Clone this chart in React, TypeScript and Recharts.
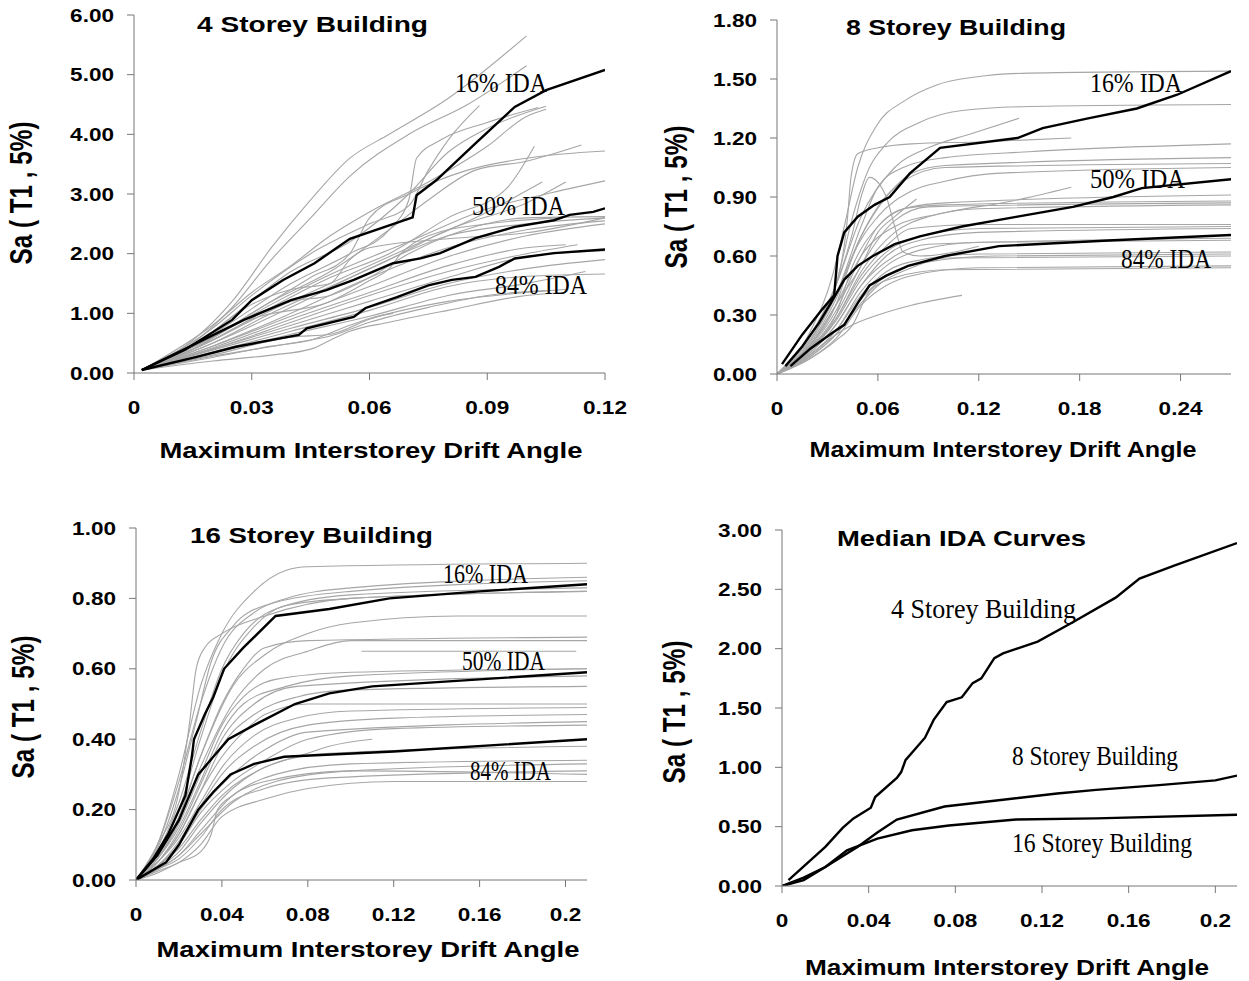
import { LineChart, Line, XAxis, YAxis } from 'recharts'

type Pt = [number, number]

const SANS = '"Liberation Sans", Arial, sans-serif'
const SERIF = '"Liberation Serif", "Times New Roman", serif'
const AXIS = '#777'
const GRAY = '#a6a6a6'

// tick values
const X_TICKS_4 = [0, 0.03, 0.06, 0.09, 0.12]
const Y_TICKS_4 = [0, 1, 2, 3, 4, 5, 6]
const X_TICKS_8 = [0, 0.06, 0.12, 0.18, 0.24]
const Y_TICKS_8 = [0, 0.3, 0.6, 0.9, 1.2, 1.5, 1.8]
const X_TICKS_16 = [0, 0.04, 0.08, 0.12, 0.16, 0.2]
const Y_TICKS_16 = [0, 0.2, 0.4, 0.6, 0.8, 1.0]
const X_TICKS_MED = [0, 0.04, 0.08, 0.12, 0.16, 0.2]
const Y_TICKS_MED = [0, 0.5, 1, 1.5, 2, 2.5, 3]

// 4 storey: individual records (drift, Sa)
const GRAY_4: Pt[][] = [
  [[0.002, 0.05], [0.015, 0.55], [0.025, 1.2], [0.035, 2.1], [0.045, 2.9], [0.055, 3.6], [0.065, 4.0], [0.08, 4.6], [0.1, 5.65]],
  [[0.002, 0.05], [0.015, 0.5], [0.025, 1.1], [0.035, 1.9], [0.045, 2.6], [0.055, 3.3], [0.07, 4.0], [0.085, 4.5], [0.1, 5.15]],
  [[0.002, 0.05], [0.015, 0.45], [0.025, 0.95], [0.04, 1.7], [0.055, 2.2], [0.07, 3.0], [0.08, 3.7], [0.09, 4.1], [0.105, 4.47]],
  [[0.002, 0.05], [0.02, 0.75], [0.03, 1.3], [0.045, 2.0], [0.06, 2.5], [0.07, 2.8], [0.075, 3.4], [0.08, 3.9], [0.088, 4.48]],
  [[0.002, 0.05], [0.02, 0.8], [0.03, 1.35], [0.04, 1.8], [0.05, 2.3], [0.06, 2.7], [0.075, 3.2], [0.09, 3.8], [0.1, 4.3], [0.105, 4.42]],
  [[0.002, 0.05], [0.015, 0.4], [0.03, 1.0], [0.045, 1.6], [0.055, 2.0], [0.06, 2.6], [0.07, 3.0], [0.085, 3.4], [0.1, 3.6], [0.12, 3.72]],
  [[0.002, 0.05], [0.02, 0.6], [0.035, 1.2], [0.05, 1.7], [0.065, 2.4], [0.075, 2.9], [0.087, 3.4], [0.1, 3.55], [0.114, 3.82]],
  [[0.002, 0.05], [0.02, 0.55], [0.035, 1.1], [0.05, 1.6], [0.065, 2.0], [0.08, 2.6], [0.095, 3.1], [0.102, 3.8]],
  [[0.002, 0.05], [0.02, 0.6], [0.035, 1.15], [0.05, 1.65], [0.07, 2.2], [0.09, 2.75], [0.105, 3.0], [0.12, 3.22]],
  [[0.002, 0.05], [0.02, 0.55], [0.035, 1.05], [0.05, 1.5], [0.07, 2.1], [0.09, 2.7], [0.104, 3.2]],
  [[0.002, 0.05], [0.02, 0.5], [0.035, 1.0], [0.05, 1.45], [0.065, 1.9], [0.08, 2.4], [0.1, 2.85], [0.11, 3.2]],
  [[0.002, 0.05], [0.02, 0.5], [0.04, 1.1], [0.06, 1.75], [0.08, 2.3], [0.1, 2.5], [0.12, 2.6]],
  [[0.002, 0.05], [0.02, 0.45], [0.04, 1.0], [0.06, 1.6], [0.08, 2.1], [0.1, 2.4], [0.12, 2.55]],
  [[0.002, 0.05], [0.02, 0.45], [0.04, 0.95], [0.06, 1.45], [0.08, 1.95], [0.1, 2.3], [0.12, 2.5]],
  [[0.002, 0.05], [0.02, 0.42], [0.04, 0.9], [0.06, 1.35], [0.08, 1.8], [0.1, 2.1], [0.11, 2.15]],
  [[0.002, 0.05], [0.02, 0.4], [0.04, 0.85], [0.06, 1.3], [0.08, 1.7], [0.1, 2.0], [0.113, 2.15]],
  [[0.002, 0.05], [0.02, 0.4], [0.04, 0.8], [0.06, 1.2], [0.08, 1.6], [0.1, 1.95], [0.12, 2.05]],
  [[0.002, 0.05], [0.02, 0.38], [0.04, 0.75], [0.06, 1.1], [0.08, 1.5], [0.1, 1.75], [0.12, 1.9]],
  [[0.002, 0.05], [0.02, 0.35], [0.04, 0.7], [0.06, 1.05], [0.08, 1.45], [0.1, 1.62], [0.12, 1.66]],
  [[0.002, 0.05], [0.02, 0.33], [0.04, 0.65], [0.06, 0.95], [0.08, 1.3], [0.1, 1.5], [0.115, 1.7]],
  [[0.002, 0.05], [0.02, 0.3], [0.04, 0.6], [0.05, 0.65], [0.06, 0.9], [0.08, 1.2], [0.1, 1.35], [0.11, 1.4]],
  [[0.002, 0.05], [0.02, 0.28], [0.04, 0.5], [0.05, 0.62], [0.06, 0.85], [0.075, 1.1], [0.09, 1.3], [0.105, 1.38]],
  [[0.002, 0.05], [0.02, 0.26], [0.035, 0.45], [0.045, 0.55], [0.055, 0.8], [0.062, 0.95], [0.066, 1.0]],
  [[0.002, 0.05], [0.02, 0.2], [0.035, 0.3], [0.045, 0.4], [0.05, 0.55], [0.055, 0.7], [0.065, 0.85], [0.08, 1.05], [0.1, 1.3], [0.11, 1.35]],
  [[0.002, 0.05], [0.015, 0.4], [0.03, 0.95], [0.04, 1.2], [0.05, 1.3], [0.06, 1.6], [0.07, 2.0], [0.08, 2.3], [0.1, 2.6], [0.12, 2.62]],
  [[0.002, 0.05], [0.02, 0.65], [0.04, 1.5], [0.055, 2.0], [0.065, 2.4], [0.07, 2.9], [0.072, 3.6], [0.078, 3.9], [0.09, 4.2], [0.103, 4.45]],
  [[0.002, 0.05], [0.015, 0.45], [0.03, 1.15], [0.04, 1.4], [0.05, 1.5], [0.055, 1.9], [0.06, 2.1], [0.08, 2.25], [0.1, 2.35], [0.12, 2.6]],
  [[0.002, 0.05], [0.02, 0.55], [0.03, 0.9], [0.05, 1.2], [0.06, 1.55], [0.065, 1.75], [0.068, 2.0], [0.075, 2.3], [0.09, 2.5], [0.108, 2.6]],
]
const P16_4: Pt[] = [[0.002, 0.05], [0.013, 0.39], [0.025, 0.89], [0.03, 1.22], [0.038, 1.56], [0.046, 1.84], [0.055, 2.25], [0.071, 2.61], [0.072, 2.98], [0.077, 3.23], [0.087, 3.85], [0.097, 4.46], [0.105, 4.74], [0.12, 5.08]]
const P50_4: Pt[] = [[0.002, 0.05], [0.016, 0.5], [0.028, 0.89], [0.04, 1.22], [0.049, 1.39], [0.056, 1.56], [0.066, 1.84], [0.073, 1.92], [0.078, 2.01], [0.087, 2.26], [0.097, 2.45], [0.107, 2.56], [0.111, 2.65], [0.117, 2.7], [0.12, 2.76]]
const P84_4: Pt[] = [[0.002, 0.05], [0.016, 0.27], [0.026, 0.44], [0.042, 0.64], [0.044, 0.75], [0.056, 0.94], [0.059, 1.09], [0.067, 1.27], [0.075, 1.47], [0.081, 1.56], [0.087, 1.61], [0.093, 1.78], [0.097, 1.92], [0.107, 2.01], [0.12, 2.07]]

// 8 storey
const GRAY_8: Pt[][] = [
  [[0, 0], [0.02, 0.22], [0.033, 0.5], [0.04, 0.75], [0.048, 1.05], [0.059, 1.26], [0.076, 1.39], [0.095, 1.47], [0.118, 1.51], [0.15, 1.53], [0.27, 1.54]],
  [[0, 0], [0.02, 0.2], [0.035, 0.45], [0.045, 0.8], [0.055, 1.05], [0.065, 1.17], [0.085, 1.28], [0.11, 1.34], [0.15, 1.36], [0.27, 1.37]],
  [[0, 0], [0.02, 0.2], [0.035, 0.45], [0.05, 0.8], [0.07, 1.05], [0.09, 1.15], [0.115, 1.22], [0.144, 1.3]],
  [[0, 0], [0.02, 0.2], [0.035, 0.45], [0.042, 0.8], [0.044, 1.0], [0.048, 1.12], [0.06, 1.15], [0.08, 1.17], [0.12, 1.18], [0.175, 1.2]],
  [[0, 0], [0.02, 0.18], [0.035, 0.4], [0.05, 0.75], [0.06, 0.95], [0.075, 1.05], [0.1, 1.1], [0.15, 1.13], [0.27, 1.17]],
  [[0, 0], [0.02, 0.17], [0.035, 0.4], [0.05, 0.7], [0.065, 0.9], [0.08, 1.02], [0.1, 1.06], [0.27, 1.1]],
  [[0, 0], [0.02, 0.16], [0.035, 0.38], [0.05, 0.7], [0.06, 0.85], [0.075, 0.98], [0.1, 1.05], [0.27, 1.07]],
  [[0, 0], [0.02, 0.15], [0.035, 0.35], [0.045, 0.6], [0.06, 0.8], [0.08, 0.93], [0.1, 0.98], [0.13, 1.02], [0.27, 1.05]],
  [[0, 0], [0.02, 0.15], [0.035, 0.35], [0.05, 0.6], [0.07, 0.75], [0.1, 0.82], [0.14, 0.88], [0.175, 0.95]],
  [[0, 0], [0.02, 0.14], [0.035, 0.32], [0.05, 0.6], [0.06, 0.75], [0.08, 0.85], [0.1, 0.87], [0.27, 0.91]],
  [[0, 0], [0.02, 0.14], [0.035, 0.3], [0.045, 0.55], [0.06, 0.75], [0.075, 0.84], [0.1, 0.86], [0.27, 0.88]],
  [[0, 0], [0.02, 0.13], [0.035, 0.3], [0.05, 0.55], [0.07, 0.78], [0.09, 0.85], [0.27, 0.87]],
  [[0, 0], [0.02, 0.13], [0.035, 0.28], [0.05, 0.52], [0.07, 0.72], [0.09, 0.8], [0.12, 0.84], [0.27, 0.86]],
  [[0, 0], [0.02, 0.12], [0.035, 0.28], [0.05, 0.5], [0.065, 0.65], [0.08, 0.74], [0.12, 0.76], [0.27, 0.76]],
  [[0, 0], [0.02, 0.12], [0.035, 0.27], [0.05, 0.48], [0.065, 0.62], [0.085, 0.7], [0.12, 0.74], [0.27, 0.75]],
  [[0, 0], [0.02, 0.11], [0.035, 0.25], [0.05, 0.45], [0.065, 0.6], [0.085, 0.68], [0.12, 0.72], [0.27, 0.74]],
  [[0, 0], [0.02, 0.11], [0.035, 0.25], [0.05, 0.45], [0.07, 0.6], [0.09, 0.66], [0.27, 0.69]],
  [[0, 0], [0.02, 0.1], [0.035, 0.22], [0.05, 0.42], [0.065, 0.55], [0.085, 0.63], [0.12, 0.67], [0.27, 0.68]],
  [[0, 0], [0.02, 0.1], [0.035, 0.22], [0.05, 0.4], [0.065, 0.52], [0.085, 0.58], [0.12, 0.61], [0.27, 0.62]],
  [[0, 0], [0.02, 0.09], [0.035, 0.2], [0.05, 0.38], [0.065, 0.5], [0.09, 0.57], [0.13, 0.6], [0.27, 0.61]],
  [[0, 0], [0.02, 0.09], [0.035, 0.2], [0.05, 0.36], [0.06, 0.45], [0.08, 0.54], [0.1, 0.59], [0.27, 0.6]],
  [[0, 0], [0.02, 0.08], [0.035, 0.18], [0.05, 0.35], [0.065, 0.45], [0.08, 0.5], [0.12, 0.54], [0.27, 0.55]],
  [[0, 0], [0.02, 0.08], [0.035, 0.17], [0.045, 0.25], [0.055, 0.42], [0.07, 0.49], [0.1, 0.53], [0.27, 0.54]],
  [[0, 0], [0.02, 0.1], [0.035, 0.2], [0.045, 0.25], [0.06, 0.3], [0.08, 0.35], [0.11, 0.4]],
  [[0, 0], [0.02, 0.15], [0.035, 0.35], [0.05, 0.55], [0.06, 0.72], [0.07, 0.8], [0.083, 0.89]],
  [[0, 0], [0.02, 0.2], [0.035, 0.45], [0.045, 0.72], [0.05, 0.9], [0.055, 1.0], [0.065, 0.9], [0.07, 0.75], [0.075, 0.62], [0.085, 0.6], [0.12, 0.65]],
]
const P16_8: Pt[] = [[0.003, 0.05], [0.015, 0.2], [0.027, 0.33], [0.034, 0.4], [0.036, 0.6], [0.04, 0.72], [0.048, 0.8], [0.058, 0.86], [0.067, 0.9], [0.079, 1.02], [0.097, 1.15], [0.143, 1.2], [0.158, 1.25], [0.185, 1.3], [0.214, 1.35], [0.238, 1.42], [0.27, 1.54]]
const P50_8: Pt[] = [[0.005, 0.04], [0.015, 0.14], [0.025, 0.26], [0.032, 0.36], [0.04, 0.48], [0.048, 0.55], [0.057, 0.6], [0.07, 0.66], [0.085, 0.7], [0.11, 0.75], [0.143, 0.8], [0.176, 0.85], [0.2, 0.9], [0.217, 0.945], [0.27, 0.99]]
const P84_8: Pt[] = [[0.008, 0.04], [0.02, 0.13], [0.033, 0.21], [0.04, 0.25], [0.048, 0.36], [0.055, 0.45], [0.065, 0.5], [0.078, 0.55], [0.1, 0.6], [0.132, 0.65], [0.165, 0.665], [0.2, 0.68], [0.27, 0.707]]

// 16 storey
const GRAY_16: Pt[][] = [
  [[0, 0], [0.01, 0.1], [0.02, 0.3], [0.03, 0.55], [0.04, 0.7], [0.055, 0.82], [0.07, 0.88], [0.08, 0.89], [0.21, 0.9]],
  [[0, 0], [0.01, 0.1], [0.02, 0.28], [0.03, 0.5], [0.04, 0.66], [0.055, 0.76], [0.07, 0.8], [0.1, 0.83], [0.21, 0.86]],
  [[0, 0], [0.01, 0.09], [0.02, 0.26], [0.028, 0.45], [0.035, 0.62], [0.045, 0.72], [0.06, 0.78], [0.1, 0.82], [0.21, 0.85]],
  [[0, 0], [0.01, 0.08], [0.02, 0.22], [0.03, 0.42], [0.04, 0.6], [0.05, 0.7], [0.065, 0.77], [0.1, 0.81], [0.21, 0.83]],
  [[0, 0], [0.01, 0.08], [0.02, 0.2], [0.03, 0.4], [0.04, 0.58], [0.055, 0.72], [0.07, 0.78], [0.1, 0.8], [0.21, 0.82]],
  [[0, 0], [0.01, 0.1], [0.02, 0.25], [0.025, 0.45], [0.028, 0.6], [0.032, 0.66], [0.04, 0.7], [0.06, 0.75], [0.1, 0.8], [0.21, 0.82]],
  [[0, 0], [0.01, 0.07], [0.02, 0.18], [0.03, 0.35], [0.045, 0.55], [0.06, 0.64], [0.08, 0.7], [0.1, 0.73], [0.15, 0.75], [0.21, 0.75]],
  [[0, 0], [0.01, 0.07], [0.02, 0.18], [0.03, 0.35], [0.04, 0.5], [0.05, 0.6], [0.06, 0.66], [0.08, 0.68], [0.21, 0.69]],
  [[0, 0], [0.01, 0.06], [0.02, 0.17], [0.03, 0.32], [0.045, 0.5], [0.06, 0.6], [0.08, 0.65], [0.1, 0.68], [0.21, 0.68]],
  [[0.105, 0.65], [0.15, 0.65], [0.205, 0.65]],
  [[0, 0], [0.01, 0.06], [0.02, 0.16], [0.03, 0.3], [0.04, 0.44], [0.05, 0.52], [0.065, 0.57], [0.1, 0.59], [0.21, 0.6]],
  [[0, 0], [0.01, 0.06], [0.02, 0.15], [0.03, 0.28], [0.04, 0.42], [0.05, 0.5], [0.07, 0.55], [0.1, 0.58], [0.21, 0.6]],
  [[0, 0], [0.01, 0.05], [0.02, 0.14], [0.03, 0.27], [0.04, 0.4], [0.055, 0.5], [0.075, 0.55], [0.21, 0.58]],
  [[0, 0], [0.01, 0.05], [0.02, 0.13], [0.03, 0.25], [0.04, 0.38], [0.055, 0.47], [0.075, 0.52], [0.1, 0.54], [0.21, 0.55]],
  [[0, 0], [0.01, 0.05], [0.02, 0.13], [0.03, 0.25], [0.04, 0.35], [0.05, 0.42], [0.06, 0.47], [0.08, 0.5], [0.21, 0.5]],
  [[0, 0], [0.01, 0.05], [0.02, 0.12], [0.03, 0.22], [0.04, 0.32], [0.055, 0.41], [0.075, 0.46], [0.1, 0.48], [0.21, 0.49]],
  [[0, 0], [0.01, 0.04], [0.02, 0.11], [0.03, 0.21], [0.04, 0.3], [0.055, 0.38], [0.08, 0.44], [0.12, 0.46], [0.21, 0.47]],
  [[0, 0], [0.01, 0.04], [0.02, 0.1], [0.03, 0.2], [0.045, 0.3], [0.06, 0.37], [0.08, 0.42], [0.21, 0.45]],
  [[0, 0], [0.01, 0.04], [0.02, 0.1], [0.03, 0.19], [0.045, 0.28], [0.06, 0.34], [0.08, 0.4], [0.12, 0.43], [0.21, 0.44]],
  [[0, 0], [0.01, 0.04], [0.02, 0.09], [0.03, 0.17], [0.04, 0.24], [0.06, 0.32], [0.08, 0.36], [0.09, 0.38], [0.11, 0.4]],
  [[0, 0], [0.01, 0.035], [0.02, 0.08], [0.03, 0.16], [0.045, 0.26], [0.06, 0.32], [0.09, 0.36], [0.21, 0.38]],
  [[0, 0], [0.01, 0.03], [0.02, 0.07], [0.03, 0.14], [0.045, 0.24], [0.065, 0.3], [0.1, 0.33], [0.21, 0.34]],
  [[0, 0], [0.01, 0.03], [0.02, 0.07], [0.03, 0.13], [0.045, 0.22], [0.065, 0.28], [0.1, 0.31], [0.21, 0.33]],
  [[0, 0], [0.01, 0.03], [0.02, 0.06], [0.03, 0.12], [0.04, 0.2], [0.06, 0.26], [0.09, 0.29], [0.21, 0.31]],
  [[0, 0], [0.01, 0.025], [0.02, 0.05], [0.03, 0.1], [0.04, 0.18], [0.06, 0.23], [0.08, 0.26], [0.12, 0.28], [0.21, 0.28]],
  [[0, 0], [0.01, 0.02], [0.02, 0.05], [0.03, 0.08], [0.035, 0.13], [0.038, 0.2], [0.045, 0.24], [0.06, 0.28], [0.1, 0.31], [0.21, 0.3]],
]
const P16_16: Pt[] = [[0, 0], [0.008, 0.06], [0.015, 0.13], [0.023, 0.24], [0.026, 0.35], [0.027, 0.4], [0.032, 0.47], [0.036, 0.52], [0.041, 0.6], [0.05, 0.66], [0.065, 0.75], [0.09, 0.77], [0.118, 0.8], [0.16, 0.82], [0.21, 0.84]]
const P50_16: Pt[] = [[0, 0], [0.01, 0.07], [0.02, 0.17], [0.029, 0.3], [0.036, 0.35], [0.043, 0.4], [0.055, 0.44], [0.074, 0.5], [0.09, 0.53], [0.11, 0.55], [0.16, 0.57], [0.21, 0.59]]
const P84_16: Pt[] = [[0, 0], [0.014, 0.05], [0.02, 0.1], [0.029, 0.2], [0.036, 0.25], [0.044, 0.3], [0.055, 0.33], [0.069, 0.35], [0.12, 0.365], [0.21, 0.4]]

// median IDA curves of the three buildings
const MED_4: Pt[] = [[0.003, 0.05], [0.02, 0.33], [0.028, 0.49], [0.033, 0.57], [0.041, 0.66], [0.043, 0.75], [0.053, 0.91], [0.055, 0.96], [0.057, 1.06], [0.066, 1.25], [0.07, 1.4], [0.076, 1.55], [0.083, 1.59], [0.088, 1.71], [0.092, 1.75], [0.098, 1.92], [0.102, 1.96], [0.118, 2.06], [0.134, 2.22], [0.154, 2.43], [0.165, 2.59], [0.181, 2.7], [0.21, 2.89]]
const MED_8: Pt[] = [[0, 0], [0.01, 0.07], [0.02, 0.16], [0.035, 0.33], [0.044, 0.45], [0.053, 0.56], [0.075, 0.67], [0.099, 0.72], [0.127, 0.78], [0.145, 0.81], [0.174, 0.85], [0.2, 0.89], [0.21, 0.93]]
const MED_16: Pt[] = [[0, 0], [0.01, 0.05], [0.02, 0.16], [0.03, 0.3], [0.044, 0.4], [0.06, 0.47], [0.077, 0.51], [0.108, 0.56], [0.145, 0.57], [0.21, 0.6]]

const toPts = (c: Pt[]) => c.map(([x, y]) => ({ x, y }))
const fmtX = (v: number) => (v === 0 ? '0' : String(Number(v.toFixed(2))))

function XTick(props: any) {
  const { x, y, payload } = props
  return (
    <text
      transform={`translate(${x},${y + 34}) scale(1.22,1)`}
      textAnchor="middle"
      fontSize={18.5}
      fontWeight="bold"
      fontFamily={SANS}
      fill="#000"
    >
      {fmtX(payload.value)}
    </text>
  )
}

function YTick(props: any) {
  const { x, y, payload } = props
  return (
    <text
      transform={`translate(${x},${y + 6.5}) scale(1.22,1)`}
      textAnchor="end"
      fontSize={18.5}
      fontWeight="bold"
      fontFamily={SANS}
      fill="#000"
    >
      {Number(payload.value).toFixed(2)}
    </text>
  )
}

type PanelProps = {
  left: number
  top: number
  width: number
  height: number
  margin: { top: number; right: number; left: number; bottom: number }
  yWidth: number
  xHeight: number
  xMax: number
  yMax: number
  xTicks: number[]
  yTicks: number[]
  gray: Pt[][]
  black: Pt[][]
}

function Panel(p: PanelProps) {
  return (
    <div style={{ position: 'absolute', left: p.left, top: p.top }}>
      <LineChart width={p.width} height={p.height} margin={p.margin}>
        <XAxis
          type="number"
          dataKey="x"
          domain={[0, p.xMax]}
          ticks={p.xTicks}
          interval={0}
          allowDataOverflow
          height={p.xHeight}
          tickSize={7}
          tickMargin={0}
          stroke={AXIS}
          tick={(t: any) => <XTick {...t} />}
        />
        <YAxis
          type="number"
          dataKey="y"
          domain={[0, p.yMax]}
          ticks={p.yTicks}
          interval={0}
          allowDataOverflow
          width={p.yWidth}
          tickSize={7}
          tickMargin={13}
          stroke={AXIS}
          tick={(t: any) => <YTick {...t} />}
        />
        {p.gray.map((c, i) => (
          <Line
            key={`g${i}`}
            data={toPts(c)}
            dataKey="y"
            type="monotone"
            stroke={GRAY}
            strokeWidth={1.1}
            dot={false}
            activeDot={false}
            isAnimationActive={false}
          />
        ))}
        {p.black.map((c, i) => (
          <Line
            key={`b${i}`}
            data={toPts(c)}
            dataKey="y"
            type="linear"
            stroke="#000"
            strokeWidth={2.4}
            dot={false}
            activeDot={false}
            isAnimationActive={false}
          />
        ))}
      </LineChart>
    </div>
  )
}

function Txt(props: {
  x: number
  y: number
  w: number
  size: number
  serif?: boolean
  anchor?: 'start' | 'middle'
  children: string
}) {
  return (
    <text
      x={props.x}
      y={props.y}
      textLength={props.w}
      lengthAdjust="spacingAndGlyphs"
      textAnchor={props.anchor ?? 'start'}
      fontSize={props.size}
      fontWeight={props.serif ? 'normal' : 'bold'}
      fontFamily={props.serif ? SERIF : SANS}
      fill="#000"
    >
      {props.children}
    </text>
  )
}

function YLabel({ cx, cy }: { cx: number; cy: number }) {
  return (
    <text
      transform={`translate(${cx},${cy}) scale(1.28,1) rotate(-90)`}
      textAnchor="middle"
      dominantBaseline="central"
      textLength={143}
      lengthAdjust="spacingAndGlyphs"
      fontSize={24}
      fontWeight="bold"
      fontFamily={SANS}
      fill="#000"
    >
      Sa ( T1 , 5%)
    </text>
  )
}

const X_TITLE = 'Maximum Interstorey Drift Angle'

export default function App() {
  return (
    <div
      style={{
        position: 'absolute',
        left: 0,
        top: 0,
        width: 1249,
        height: 981,
        background: '#fff',
        overflow: 'hidden',
      }}
    >
      <Panel
        left={0}
        top={0}
        width={640}
        height={480}
        margin={{ top: 15, right: 35, left: 0, bottom: 0 }}
        yWidth={134}
        xHeight={107}
        xMax={0.12}
        yMax={6}
        xTicks={X_TICKS_4}
        yTicks={Y_TICKS_4}
        gray={GRAY_4}
        black={[P16_4, P50_4, P84_4]}
      />
      <Panel
        left={620}
        top={0}
        width={629}
        height={480}
        margin={{ top: 20, right: 18, left: 0, bottom: 0 }}
        yWidth={157}
        xHeight={106}
        xMax={0.27}
        yMax={1.8}
        xTicks={X_TICKS_8}
        yTicks={Y_TICKS_8}
        gray={GRAY_8}
        black={[P16_8, P50_8, P84_8]}
      />
      <Panel
        left={0}
        top={490}
        width={620}
        height={490}
        margin={{ top: 38, right: 33, left: 0, bottom: 0 }}
        yWidth={136}
        xHeight={100}
        xMax={0.21}
        yMax={1}
        xTicks={X_TICKS_16}
        yTicks={Y_TICKS_16}
        gray={GRAY_16}
        black={[P16_16, P50_16, P84_16]}
      />
      <Panel
        left={620}
        top={490}
        width={629}
        height={491}
        margin={{ top: 40, right: 12, left: 0, bottom: 0 }}
        yWidth={162}
        xHeight={95}
        xMax={0.21}
        yMax={3}
        xTicks={X_TICKS_MED}
        yTicks={Y_TICKS_MED}
        gray={[]}
        black={[MED_4, MED_8, MED_16]}
      />

      <svg
        width={1249}
        height={981}
        style={{ position: 'absolute', left: 0, top: 0, pointerEvents: 'none' }}
      >
        {/* panel titles */}
        <Txt x={197} y={32} w={231} size={22}>4 Storey Building</Txt>
        <Txt x={846} y={35} w={220} size={22}>8 Storey Building</Txt>
        <Txt x={190} y={543} w={243} size={22}>16 Storey Building</Txt>
        <Txt x={837} y={546} w={249} size={22}>Median IDA Curves</Txt>

        {/* x axis titles */}
        <Txt x={371} y={458} w={423} size={22} anchor="middle">{X_TITLE}</Txt>
        <Txt x={1003} y={457} w={387} size={22} anchor="middle">{X_TITLE}</Txt>
        <Txt x={368} y={957} w={423} size={22} anchor="middle">{X_TITLE}</Txt>
        <Txt x={1007} y={975} w={404} size={22} anchor="middle">{X_TITLE}</Txt>

        {/* y axis titles */}
        <YLabel cx={21} cy={193} />
        <YLabel cx={676} cy={197} />
        <YLabel cx={23} cy={707} />
        <YLabel cx={674} cy={712} />

        {/* curve annotations */}
        <Txt x={455} y={92} w={92} size={28} serif>16% IDA</Txt>
        <Txt x={472} y={215} w={93} size={28} serif>50% IDA</Txt>
        <Txt x={495} y={294} w={92} size={28} serif>84% IDA</Txt>

        <Txt x={1090} y={92} w={92} size={28} serif>16% IDA</Txt>
        <Txt x={1090} y={188} w={95} size={28} serif>50% IDA</Txt>
        <Txt x={1121} y={268} w={90} size={28} serif>84% IDA</Txt>

        <Txt x={443} y={583} w={85} size={27} serif>16% IDA</Txt>
        <Txt x={462} y={670} w={83} size={27} serif>50% IDA</Txt>
        <Txt x={470} y={780} w={81} size={27} serif>84% IDA</Txt>

        <Txt x={891} y={618} w={185} size={28} serif>4 Storey Building</Txt>
        <Txt x={1012} y={765} w={166} size={28} serif>8 Storey Building</Txt>
        <Txt x={1012} y={852} w={180} size={28} serif>16 Storey Building</Txt>
      </svg>
    </div>
  )
}
